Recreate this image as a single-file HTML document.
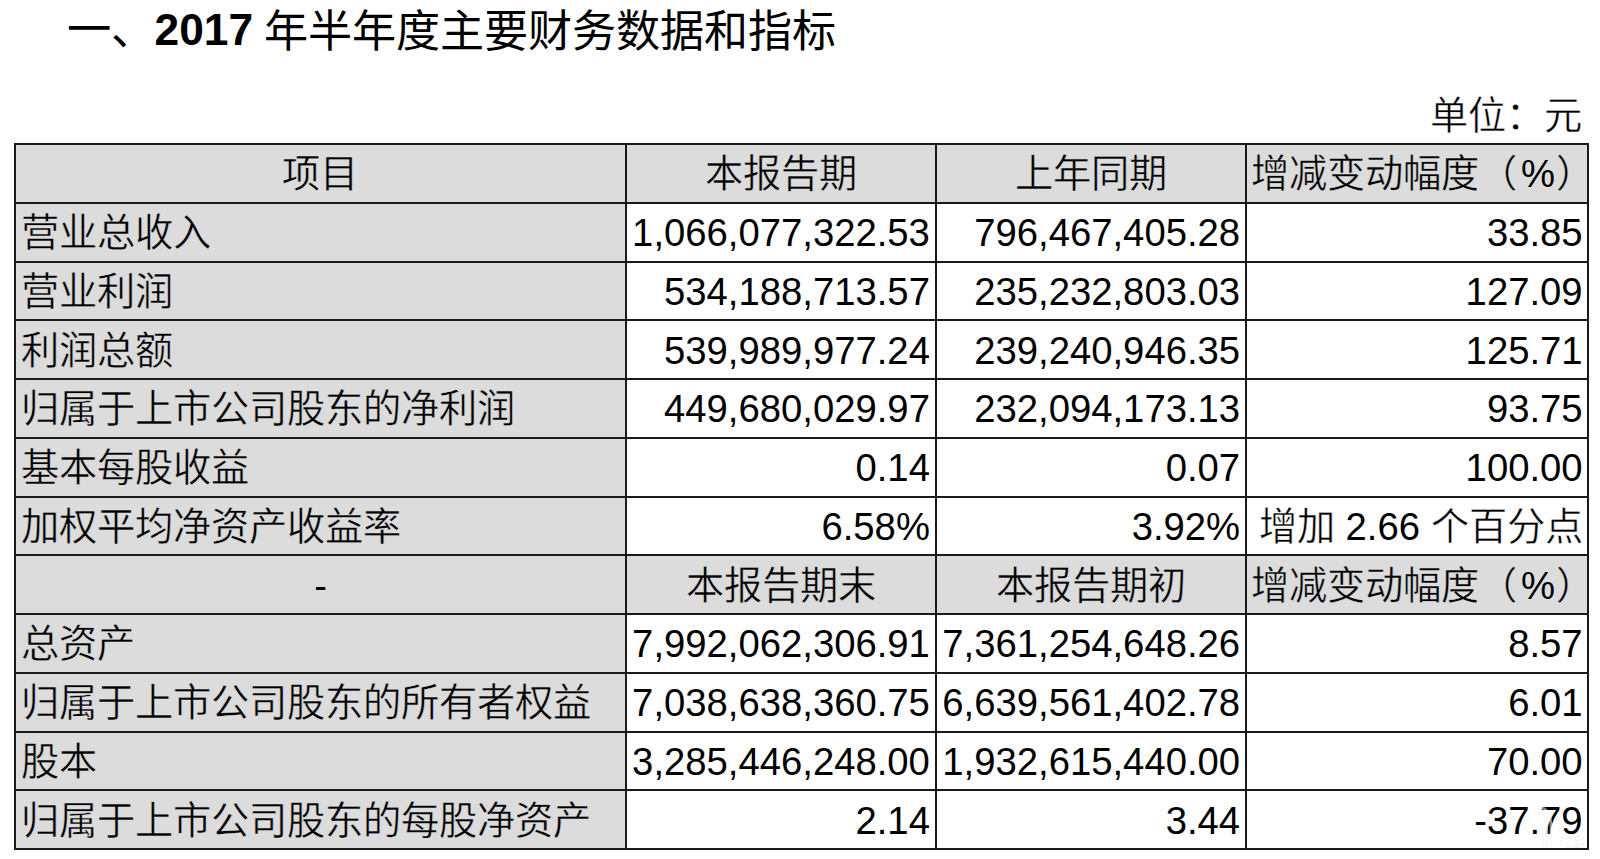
<!DOCTYPE html>
<html lang="zh-CN"><head><meta charset="utf-8"><title>2017年半年度主要财务数据和指标</title>
<style>
html,body{margin:0;padding:0;background:#fff;}
body{width:1600px;height:859px;overflow:hidden;position:relative;font-family:"Liberation Sans",sans-serif;color:#000;}
.g{position:absolute;background:#dcdcdc;}
.hl{position:absolute;left:14px;width:1575px;height:2px;background:#1a1a1a;}
.vl{position:absolute;top:143.0px;height:707.0px;width:2px;background:#1a1a1a;}
.t{position:absolute;height:60px;line-height:60px;font-size:38.26px;white-space:nowrap;}
.gb .c{-webkit-text-stroke:0.45px #dcdcdc;}
.wb .c{-webkit-text-stroke:0.45px #fff;}
.l{font-family:"Liberation Sans",sans-serif;}
.title{position:absolute;left:66.5px;top:0px;height:60px;line-height:60px;font-size:44.3px;white-space:nowrap;}
.tc{position:relative;top:1.5px;font-size:44.1px;}
.unit{position:absolute;right:18px;top:86px;height:60px;line-height:60px;font-size:38.26px;white-space:nowrap;}
</style></head><body>
<div class="title">一、<b>2017</b> <span class="tc" style="margin-left:-1.5px">年半年度主要财务数据和指标</span></div>
<div class="unit wb"><span class="c">单位：元</span></div>
<div class="g" style="left:14px;top:143.0px;width:1573px;height:58.75px"></div>
<div class="g" style="left:14px;top:201.75px;width:611px;height:58.75px"></div>
<div class="g" style="left:14px;top:260.5px;width:611px;height:58.75px"></div>
<div class="g" style="left:14px;top:319.25px;width:611px;height:58.75px"></div>
<div class="g" style="left:14px;top:378.0px;width:611px;height:58.75px"></div>
<div class="g" style="left:14px;top:436.75px;width:611px;height:58.75px"></div>
<div class="g" style="left:14px;top:495.5px;width:611px;height:58.75px"></div>
<div class="g" style="left:14px;top:554.25px;width:1573px;height:58.75px"></div>
<div class="g" style="left:14px;top:613.0px;width:611px;height:58.75px"></div>
<div class="g" style="left:14px;top:671.75px;width:611px;height:58.75px"></div>
<div class="g" style="left:14px;top:730.5px;width:611px;height:58.75px"></div>
<div class="g" style="left:14px;top:789.25px;width:611px;height:58.75px"></div>
<div class="hl" style="top:143.0px"></div>
<div class="hl" style="top:201.75px"></div>
<div class="hl" style="top:260.5px"></div>
<div class="hl" style="top:319.25px"></div>
<div class="hl" style="top:378.0px"></div>
<div class="hl" style="top:436.75px"></div>
<div class="hl" style="top:495.5px"></div>
<div class="hl" style="top:554.25px"></div>
<div class="hl" style="top:613.0px"></div>
<div class="hl" style="top:671.75px"></div>
<div class="hl" style="top:730.5px"></div>
<div class="hl" style="top:789.25px"></div>
<div class="hl" style="top:848.0px"></div>
<div class="vl" style="left:14px"></div>
<div class="vl" style="left:625px"></div>
<div class="vl" style="left:935px"></div>
<div class="vl" style="left:1245px"></div>
<div class="vl" style="left:1587px"></div>
<div class="t gb" style="left:15px;width:609px;top:144.375px;text-align:center"><span class="c">项目</span></div>
<div class="t gb" style="left:627px;width:308px;top:144.375px;text-align:center"><span class="c">本报告期</span></div>
<div class="t gb" style="left:937px;width:308px;top:144.375px;text-align:center"><span class="c">上年同期</span></div>
<div class="t gb" style="left:1250.5px;width:400px;top:144.375px;text-align:left"><span class="c">增减变动幅度（</span><span class="l" style="margin-left:4.5px">%</span><span class="c" style="margin-left:1.3px">）</span></div>
<div class="t gb" style="left:21.0px;width:700px;top:203.125px;text-align:left"><span class="c">营业总收入</span></div>
<div class="t wb" style="right:670.1px;width:500px;top:203.125px;text-align:right"><span class="l">1,066,077,322.53</span></div>
<div class="t wb" style="right:359.9000000000001px;width:500px;top:203.125px;text-align:right"><span class="l">796,467,405.28</span></div>
<div class="t wb" style="right:17.40000000000009px;width:500px;top:203.125px;text-align:right"><span class="l">33.85</span></div>
<div class="t gb" style="left:21.0px;width:700px;top:261.875px;text-align:left"><span class="c">营业利润</span></div>
<div class="t wb" style="right:670.1px;width:500px;top:261.875px;text-align:right"><span class="l">534,188,713.57</span></div>
<div class="t wb" style="right:359.9000000000001px;width:500px;top:261.875px;text-align:right"><span class="l">235,232,803.03</span></div>
<div class="t wb" style="right:17.40000000000009px;width:500px;top:261.875px;text-align:right"><span class="l">127.09</span></div>
<div class="t gb" style="left:21.0px;width:700px;top:320.625px;text-align:left"><span class="c">利润总额</span></div>
<div class="t wb" style="right:670.1px;width:500px;top:320.625px;text-align:right"><span class="l">539,989,977.24</span></div>
<div class="t wb" style="right:359.9000000000001px;width:500px;top:320.625px;text-align:right"><span class="l">239,240,946.35</span></div>
<div class="t wb" style="right:17.40000000000009px;width:500px;top:320.625px;text-align:right"><span class="l">125.71</span></div>
<div class="t gb" style="left:21.0px;width:700px;top:379.375px;text-align:left"><span class="c">归属于上市公司股东的净利润</span></div>
<div class="t wb" style="right:670.1px;width:500px;top:379.375px;text-align:right"><span class="l">449,680,029.97</span></div>
<div class="t wb" style="right:359.9000000000001px;width:500px;top:379.375px;text-align:right"><span class="l">232,094,173.13</span></div>
<div class="t wb" style="right:17.40000000000009px;width:500px;top:379.375px;text-align:right"><span class="l">93.75</span></div>
<div class="t gb" style="left:21.0px;width:700px;top:438.125px;text-align:left"><span class="c">基本每股收益</span></div>
<div class="t wb" style="right:670.1px;width:500px;top:438.125px;text-align:right"><span class="l">0.14</span></div>
<div class="t wb" style="right:359.9000000000001px;width:500px;top:438.125px;text-align:right"><span class="l">0.07</span></div>
<div class="t wb" style="right:17.40000000000009px;width:500px;top:438.125px;text-align:right"><span class="l">100.00</span></div>
<div class="t gb" style="left:21.0px;width:700px;top:496.875px;text-align:left"><span class="c">加权平均净资产收益率</span></div>
<div class="t wb" style="right:670.1px;width:500px;top:496.875px;text-align:right"><span class="l">6.58%</span></div>
<div class="t wb" style="right:359.9000000000001px;width:500px;top:496.875px;text-align:right"><span class="l">3.92%</span></div>
<div class="t wb" style="right:17.40000000000009px;width:500px;top:496.875px;text-align:right"><span class="c">增加</span><span class="l">&#160;2.66&#160;</span><span class="c">个百分点</span></div>
<div class="t gb" style="left:16px;width:609px;top:555.625px;text-align:center"><span class="l">-</span></div>
<div class="t gb" style="left:627px;width:308px;top:555.625px;text-align:center"><span class="c">本报告期末</span></div>
<div class="t gb" style="left:937px;width:308px;top:555.625px;text-align:center"><span class="c">本报告期初</span></div>
<div class="t gb" style="left:1250.5px;width:400px;top:555.625px;text-align:left"><span class="c">增减变动幅度（</span><span class="l" style="margin-left:4.5px">%</span><span class="c" style="margin-left:1.3px">）</span></div>
<div class="t gb" style="left:21.0px;width:700px;top:614.375px;text-align:left"><span class="c">总资产</span></div>
<div class="t wb" style="right:670.1px;width:500px;top:614.375px;text-align:right"><span class="l">7,992,062,306.91</span></div>
<div class="t wb" style="right:359.9000000000001px;width:500px;top:614.375px;text-align:right"><span class="l">7,361,254,648.26</span></div>
<div class="t wb" style="right:17.40000000000009px;width:500px;top:614.375px;text-align:right"><span class="l">8.57</span></div>
<div class="t gb" style="left:21.0px;width:700px;top:673.125px;text-align:left"><span class="c">归属于上市公司股东的所有者权益</span></div>
<div class="t wb" style="right:670.1px;width:500px;top:673.125px;text-align:right"><span class="l">7,038,638,360.75</span></div>
<div class="t wb" style="right:359.9000000000001px;width:500px;top:673.125px;text-align:right"><span class="l">6,639,561,402.78</span></div>
<div class="t wb" style="right:17.40000000000009px;width:500px;top:673.125px;text-align:right"><span class="l">6.01</span></div>
<div class="t gb" style="left:21.0px;width:700px;top:731.875px;text-align:left"><span class="c">股本</span></div>
<div class="t wb" style="right:670.1px;width:500px;top:731.875px;text-align:right"><span class="l">3,285,446,248.00</span></div>
<div class="t wb" style="right:359.9000000000001px;width:500px;top:731.875px;text-align:right"><span class="l">1,932,615,440.00</span></div>
<div class="t wb" style="right:17.40000000000009px;width:500px;top:731.875px;text-align:right"><span class="l">70.00</span></div>
<div class="t gb" style="left:21.0px;width:700px;top:790.625px;text-align:left"><span class="c">归属于上市公司股东的每股净资产</span></div>
<div class="t wb" style="right:670.1px;width:500px;top:790.625px;text-align:right"><span class="l">2.14</span></div>
<div class="t wb" style="right:359.9000000000001px;width:500px;top:790.625px;text-align:right"><span class="l">3.44</span></div>
<div class="t wb" style="right:17.40000000000009px;width:500px;top:790.625px;text-align:right"><span class="l">-37.79</span></div>
<svg style="position:absolute;left:0;top:0" width="1600" height="859" viewBox="0 0 1600 859">
<g fill="none" stroke="#fff" stroke-opacity="0.55" stroke-width="2.6" stroke-linecap="butt">
<path d="M1530,818 Q1543,819 1543,834 L1543,847"/>
<path d="M1531,811 Q1547,812 1547,830 L1547,847"/>
<path d="M1533,805 Q1551,806 1551,826 L1551,847"/>
<path d="M1562,812 Q1555,815 1555,830 L1555,847"/>
</g>
<g fill="none" stroke="#000" stroke-opacity="0.05" stroke-width="0.8">
<path d="M1530,818 Q1543,819 1543,834 L1543,847"/>
<path d="M1531,811 Q1547,812 1547,830 L1547,847"/>
<path d="M1533,805 Q1551,806 1551,826 L1551,847"/>
</g>
<text x="1559" y="847" font-family="Liberation Sans, sans-serif" font-size="14" fill="#000" fill-opacity="0.06">亿欧</text>
</svg>
</body></html>
